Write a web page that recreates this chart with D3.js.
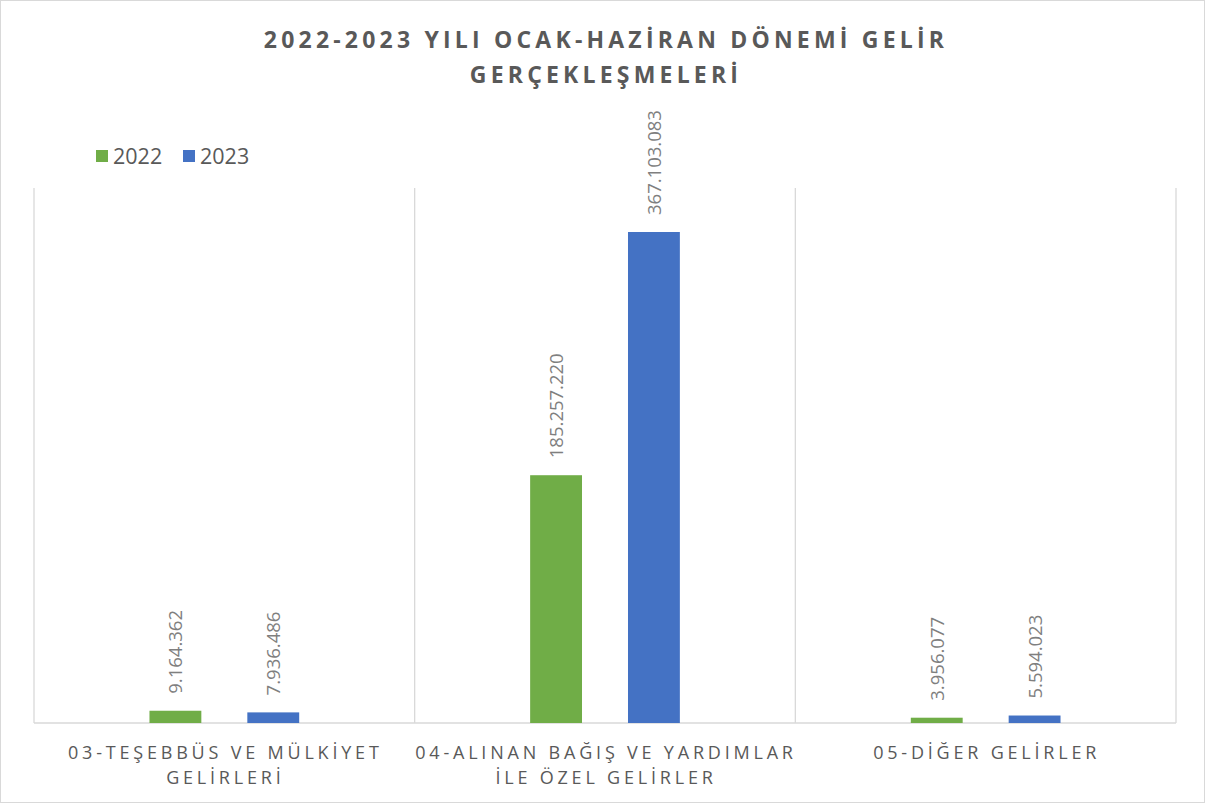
<!DOCTYPE html>
<html>
<head>
<meta charset="utf-8">
<script src="https://cdn.jsdelivr.net/npm/d3@7"></script>
<style>
  body { margin: 0; background: #fff; }
  svg { display: block; font-family: "Open Sans", sans-serif; }
</style>
</head>
<body>
<div class="graph"></div>
<script>
// datos
const categorias = [
  ['03-TEŞEBBÜS VE MÜLKİYET', 'GELİRLERİ'],
  ['04-ALINAN BAĞIŞ VE YARDIMLAR', 'İLE ÖZEL GELİRLER'],
  ['05-DİĞER GELİRLER']
]
const anios = ['2022', '2023']
const valores2022 = [9164362, 185257220, 3956077]
const valores2023 = [7936486, 367103083, 5594023]
const titulo = ['2022-2023 YILI OCAK-HAZİRAN DÖNEMİ GELİR', 'GERÇEKLEŞMELERİ']

const colores = { '2022': '#70ad47', '2023': '#4472c4' }

let width = 1206, height = 803
const margin = { left: 34, right: 30, top: 188, bottom: 80 }

const svg = d3.select('.graph')
  .append('svg')
  .attr('width', width)
  .attr('height', height)

// marco
svg.append('rect')
  .attr('x', 0.5).attr('y', 0.5)
  .attr('width', width - 2).attr('height', height - 1)
  .attr('fill', '#fff')
  .attr('stroke', '#d9d9d9')

// titulo
svg.append('text')
  .attr('x', width / 2)
  .attr('text-anchor', 'middle')
  .attr('fill', '#595959')
  .style('font-size', '23px')
  .style('font-weight', 'bold')
  .style('letter-spacing', '4.2px')
  .selectAll('tspan')
  .data(titulo)
  .enter()
  .append('tspan')
  .attr('x', width / 2 + 3)
  .attr('y', (d, i) => 48 + i * 35)
  .text(d => d)

// escalas
const xScale = d3.scaleBand()
  .domain(d3.range(categorias.length))
  .range([margin.left, width - margin.right])
  .padding(0)

const xInner = d3.scaleBand()
  .domain(anios)
  .range([0, xScale.bandwidth()])
  .paddingInner(0.47)
  .paddingOuter(1.18)

const yScale = d3.scaleLinear()
  .domain([0, 400000000])
  .range([height - margin.bottom, margin.top])

// lineas verticales
const g = svg.append('g')
g.selectAll('.grid')
  .data(d3.range(categorias.length + 1))
  .enter()
  .append('line')
  .attr('x1', d => margin.left + d * xScale.step())
  .attr('x2', d => margin.left + d * xScale.step())
  .attr('y1', yScale(400000000))
  .attr('y2', yScale(0))
  .attr('stroke', '#d9d9d9')
  .attr('stroke-width', 1.3)

g.append('line')
  .attr('x1', margin.left).attr('x2', width - margin.right)
  .attr('y1', yScale(0)).attr('y2', yScale(0))
  .attr('stroke', '#d9d9d9')
  .attr('stroke-width', 1.3)

// barras
const datos = []
categorias.forEach((c, i) => {
  datos.push({ cat: i, anio: '2022', valor: valores2022[i] })
  datos.push({ cat: i, anio: '2023', valor: valores2023[i] })
})

const fmt = v => d3.format(',')(v).replace(/,/g, '.')

g.selectAll('.bar')
  .data(datos)
  .enter()
  .append('rect')
  .attr('class', 'bar')
  .attr('x', d => xScale(d.cat) + xInner(d.anio))
  .attr('y', d => yScale(d.valor))
  .attr('width', xInner.bandwidth())
  .attr('height', d => yScale(0) - yScale(d.valor))
  .attr('fill', d => colores[d.anio])

g.selectAll('.etiqueta')
  .data(datos)
  .enter()
  .append('text')
  .attr('class', 'etiqueta')
  .attr('transform', d => {
    const x = xScale(d.cat) + xInner(d.anio) + xInner.bandwidth() / 2 + 7
    const y = yScale(d.valor) - 17
    return `translate(${x},${y}) rotate(-90)`
  })
  .attr('fill', '#7f7f7f')
  .style('font-size', '18.5px')
  .text(d => fmt(d.valor))

// etiquetas del eje
const ejeX = svg.append('g')
ejeX.selectAll('.cat')
  .data(categorias)
  .enter()
  .append('text')
  .attr('class', 'cat')
  .attr('text-anchor', 'middle')
  .attr('fill', '#595959')
  .style('font-size', '18px')
  .style('letter-spacing', '3.8px')
  .each(function (d, i) {
    d3.select(this).selectAll('tspan')
      .data(d)
      .enter()
      .append('tspan')
      .attr('x', xScale(i) + xScale.bandwidth() / 2 + 1)
      .attr('y', (t, j) => 759 + j * 25)
      .text(t => t)
  })

// leyenda
const leyenda = svg.append('g').attr('transform', 'translate(96,150)')
const item = leyenda.selectAll('.item')
  .data(anios)
  .enter()
  .append('g')
  .attr('transform', (d, i) => `translate(${i * 87},0)`)
item.append('rect')
  .attr('width', 12).attr('height', 12)
  .attr('fill', d => colores[d])
item.append('text')
  .attr('x', 17).attr('y', 14)
  .attr('fill', '#595959')
  .style('font-size', '21.5px')
  .text(d => d)
</script>
</body>
</html>
